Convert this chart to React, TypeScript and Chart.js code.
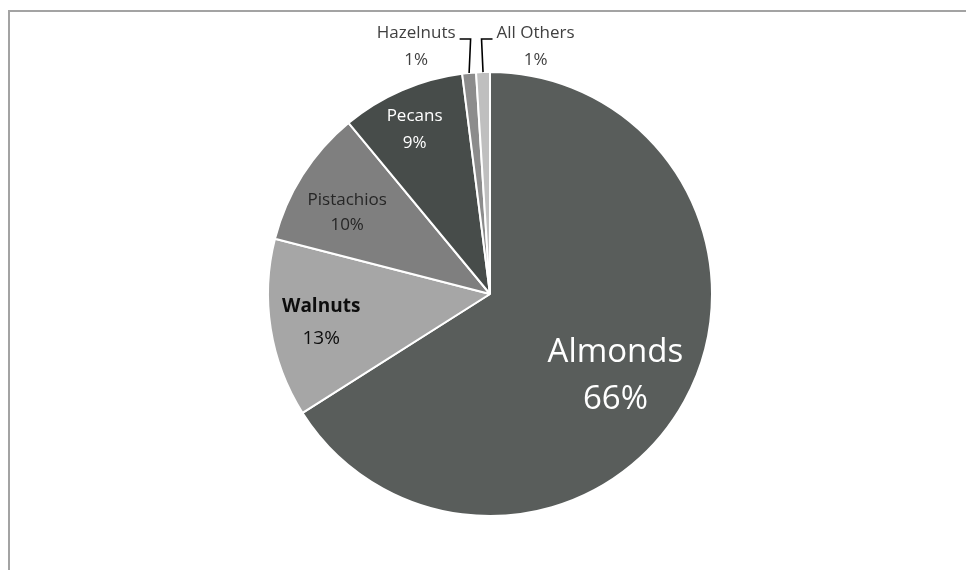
import React, { useEffect, useRef } from "react";
import { Chart, registerables } from "chart.js";

Chart.register(...registerables);

// Share of tree-nut production by kind (percent)
const categories = ["Almonds", "Walnuts", "Pistachios", "Pecans", "Hazelnuts", "All Others"];
const shares = [66, 13, 10, 9, 1, 1];
const sliceColors = ["#595d5b", "#a6a6a6", "#7f7f7f", "#474c4a", "#8c8c8c", "#bfbfbf"];

const FONT = "'Open Sans', 'DejaVu Sans', sans-serif";

type LabelStyle = {
  inside: boolean;
  size: number;
  nameWeight: string;
  color: string;
  dist?: number;
  dx?: number;
  dy?: number;
  gap: number;
  side?: number;
};

// How each slice's label is laid out
const labelStyles: LabelStyle[] = [
  { inside: true, size: 33, nameWeight: "normal", color: "#ffffff", dist: 0.66, dx: -3, dy: 12, gap: 47 },
  { inside: true, size: 19, nameWeight: "bold", color: "#0d0d0d", dist: 0.77, dx: 0, dy: 2, gap: 32 },
  { inside: true, size: 17, nameWeight: "normal", color: "#262626", dist: 0.81, dx: 9, dy: 15, gap: 25 },
  { inside: true, size: 17, nameWeight: "normal", color: "#ffffff", dist: 0.81, dx: -4, dy: 1, gap: 27 },
  { inside: false, size: 17, nameWeight: "normal", color: "#404040", gap: 27, side: -1 },
  { inside: false, size: 17, nameWeight: "normal", color: "#404040", gap: 27, side: 1 },
];

const framePlugin = {
  id: "frame",
  beforeDraw(chart: any) {
    const ctx = chart.ctx;
    ctx.save();
    ctx.fillStyle = "#ffffff";
    ctx.fillRect(0, 0, chart.width, chart.height);
    ctx.fillStyle = "#a3a3a3";
    ctx.fillRect(8, 10, chart.width - 8, 2);
    ctx.fillRect(8, 10, 2, chart.height - 10);
    ctx.restore();
  },
};

const sliceLabelPlugin = {
  id: "sliceLabels",
  afterDatasetsDraw(chart: any) {
    const ctx = chart.ctx;
    const arcs = chart.getDatasetMeta(0).data;
    ctx.save();
    ctx.textAlign = "center";
    ctx.textBaseline = "middle";
    arcs.forEach((arc: any, i: number) => {
      const st = labelStyles[i];
      const { x, y, startAngle, endAngle, outerRadius } = arc.getProps(
        ["x", "y", "startAngle", "endAngle", "outerRadius"],
        true
      );
      const mid = (startAngle + endAngle) / 2;
      const name = categories[i];
      const pct = `${shares[i]}%`;
      ctx.fillStyle = st.color;
      if (st.inside) {
        const d = outerRadius * (st.dist as number);
        const cx = x + Math.cos(mid) * d + (st.dx || 0);
        const cy = y + Math.sin(mid) * d + (st.dy || 0);
        ctx.font = `${st.nameWeight} ${st.size}px ${FONT}`;
        ctx.fillText(name, cx, cy - st.gap / 2);
        ctx.font = `normal ${st.size}px ${FONT}`;
        ctx.fillText(pct, cx, cy + st.gap / 2);
      } else {
        const side = st.side as number;
        const ex = x + Math.cos(mid) * outerRadius;
        const ey = y + Math.sin(mid) * outerRadius;
        const elbowY = y - outerRadius - 33;
        const elbowX = ex - side * 1.5;
        const endX = elbowX + side * 11;
        ctx.strokeStyle = "#000000";
        ctx.lineWidth = 1.6;
        ctx.beginPath();
        ctx.moveTo(ex, ey);
        ctx.lineTo(elbowX, elbowY);
        ctx.lineTo(endX, elbowY);
        ctx.stroke();
        ctx.font = `${st.nameWeight} ${st.size}px ${FONT}`;
        const w = ctx.measureText(name).width;
        const cx = endX + side * (4 + w / 2);
        const cy = elbowY - 6;
        ctx.fillText(name, cx, cy);
        ctx.fillText(pct, cx, cy + st.gap);
      }
    });
    ctx.restore();
  },
};

export default function App() {
  const canvasRef = useRef<HTMLCanvasElement | null>(null);

  useEffect(() => {
    if (!canvasRef.current) return;
    const chart = new Chart(canvasRef.current, {
      type: "pie",
      data: {
        labels: categories,
        datasets: [
          {
            data: shares,
            backgroundColor: sliceColors,
            borderColor: "#ffffff",
            borderWidth: 2,
          },
        ],
      },
      options: {
        animation: false,
        responsive: false,
        devicePixelRatio: 1,
        radius: 222,
        layout: { padding: { left: 14, right: 0, top: 18, bottom: 0 } },
        plugins: {
          legend: { display: false },
          tooltip: { enabled: false },
        },
      },
      plugins: [framePlugin, sliceLabelPlugin],
    });
    return () => chart.destroy();
  }, []);

  return (
    <div style={{ position: "fixed", left: 0, top: 0, width: 966, height: 570, background: "#fff" }}>
      <canvas ref={canvasRef} width={966} height={570} style={{ display: "block" }} />
    </div>
  );
}
